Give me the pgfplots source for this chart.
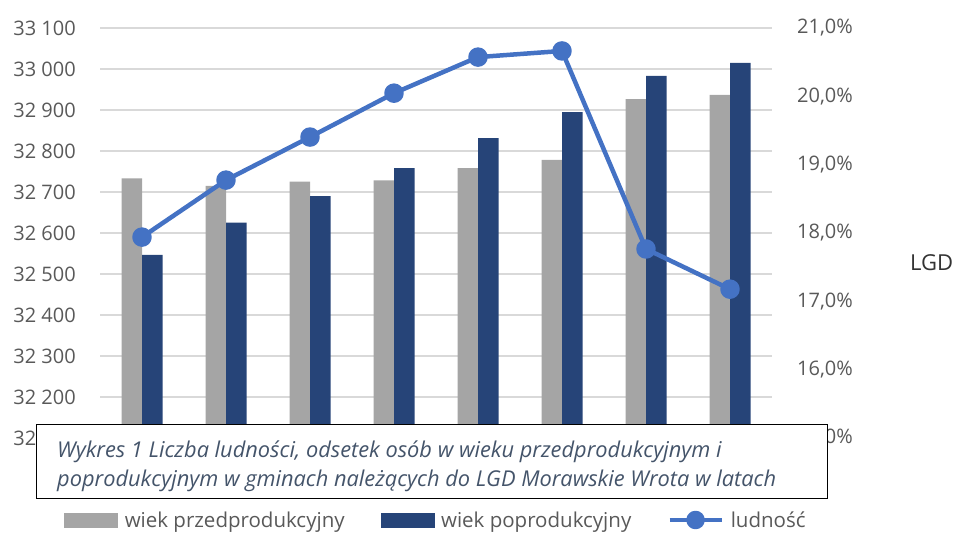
\documentclass[border=0pt]{standalone}
\usepackage{fontspec}
\setmainfont{Open Sans}
\usepackage{pgfplots}
\pgfplotsset{compat=1.18}
\definecolor{barGray}{HTML}{A5A5A5}
\definecolor{barBlue}{HTML}{264478}
\definecolor{lineBlue}{HTML}{4472C4}
\definecolor{gridGray}{HTML}{D9D9D9}
\definecolor{txtGray}{HTML}{595959}
\definecolor{capBlue}{HTML}{44546A}
\begin{document}
\begin{tikzpicture}[x=1pt,y=1pt]
\path[use as bounding box] (0,0) rectangle (958,534);
\pgfplotsset{base/.style={at={(100pt,96pt)}, anchor=south west, scale only axis,
  width=672pt, height=410pt, xmin=-0.5, xmax=7.5, axis line style={draw=none},
  major tick length=0pt, xtick=\empty, scaled y ticks=false}}
% grid and left labels
\begin{axis}[base, ymin=32100, ymax=33100, ytick={32100,32200,...,33100},
  yticklabels={32 100,32 200,32 300,32 400,32 500,32 600,32 700,32 800,32 900,33 000,33 100},
  ymajorgrids, grid style={gridGray, line width=1.3pt},
  yticklabel style={font=\fontsize{20}{24}\selectfont, text=txtGray, anchor=east, inner sep=0pt, xshift=-24pt}]
\addplot[draw=none] coordinates {(0,32500)};
\end{axis}
% bars on right axis
\begin{axis}[base, ymin=15, ymax=21, axis y line*=right, ytick={15,16,...,21},
  yticklabels={{15,0\%},{16,0\%},{17,0\%},{18,0\%},{19,0\%},{20,0\%},{21,0\%}},
  yticklabel style={font=\fontsize{20}{24}\selectfont, text=txtGray, anchor=west, inner sep=0pt, xshift=25pt}]
\addplot[ybar, bar width=20.5pt, bar shift=-10.25pt, fill=barGray, draw=none] coordinates {
(0,18.80) (1,18.69) (2,18.75) (3,18.77) (4,18.95) (5,19.07) (6,19.96) (7,20.02)};
\addplot[ybar, bar width=20.5pt, bar shift=10.25pt, fill=barBlue, draw=none] coordinates {
(0,17.68) (1,18.15) (2,18.54) (3,18.95) (4,19.39) (5,19.77) (6,20.30) (7,20.49)};
\end{axis}
% line on left scale, with legend
\begin{axis}[base, ymin=32100, ymax=33100, hide axis, clip=false,
  legend columns=3,
  legend style={at={(0.5,-0.2)}, anchor=center, draw=none, fill=none,
    font=\fontsize{20.5}{24}\selectfont, text=txtGray, inner sep=0pt,
    /tikz/every odd column/.append style={column sep=5pt},
    /tikz/every even column/.append style={column sep=34pt}},
  legend cell align=left]
\addlegendimage{legend image code/.code={\fill[barGray] (0pt,-7pt) rectangle (53pt,7pt);}}
\addlegendentry{wiek przedprodukcyjny}
\addlegendimage{legend image code/.code={\fill[barBlue] (0pt,-7pt) rectangle (53pt,7pt);}}
\addlegendentry{wiek poprodukcyjny}
\addplot[lineBlue, line width=4.5pt, line join=round, mark=*, mark size=7.5pt,
  mark options={fill=lineBlue, draw=none},
  legend image code/.code={\draw[lineBlue, line width=4.5pt] (0pt,0pt) -- (52pt,0pt); \fill[lineBlue] (26pt,0pt) circle (7pt);}]
  coordinates {(0,32590) (1,32729) (2,32834) (3,32941) (4,33029) (5,33044) (6,32561) (7,32463)};
\addlegendentry{ludność}
\end{axis}
\draw[black, line width=0.9pt, fill=white] (36,36) rectangle (827,110);
\node[anchor=base west, inner sep=0pt, text=capBlue, font=\itshape\fontsize{21.8}{26}\selectfont] at (57,76)
  {Wykres 1 Liczba ludności, odsetek osób w wieku przedprodukcyjnym i};
\node[anchor=base west, inner sep=0pt, text=capBlue, font=\itshape\fontsize{21.8}{26}\selectfont] at (57,47)
  {poprodukcyjnym w gminach należących do LGD Morawskie Wrota w latach};
\node[anchor=base west, inner sep=0pt, text=black!80, font=\fontsize{22}{26}\selectfont] at (910,263) {LGD};
\end{tikzpicture}
\end{document}
